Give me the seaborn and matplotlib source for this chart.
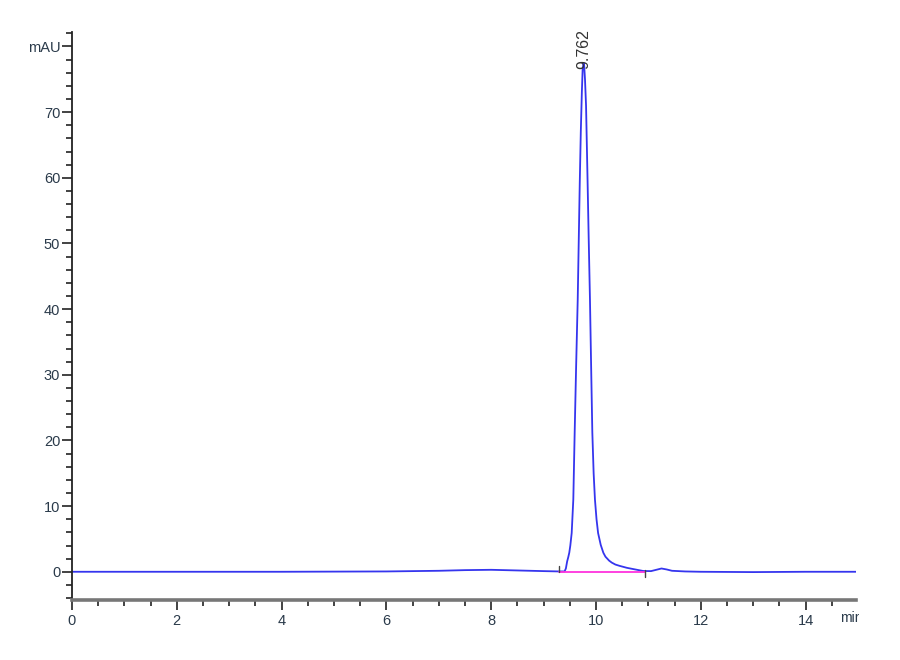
import numpy as np
import pandas as pd
import seaborn as sns
import matplotlib.pyplot as plt
from matplotlib.transforms import Bbox, TransformedBbox

# chromatogram trace (time in min, signal in mAU)
time_min = [0.0, 2.0, 4.0, 6.0, 7.0, 7.5, 8.0, 8.5, 9.0, 9.3, 9.40, 9.425,
            9.45, 9.47, 9.49, 9.51, 9.536, 9.567, 9.593, 9.62, 9.651, 9.69,
            9.71, 9.73, 9.745, 9.762, 9.775, 9.79, 9.81, 9.84, 9.86, 9.885,
            9.91, 9.93, 9.955, 9.98, 10.01, 10.04, 10.09, 10.14, 10.18, 10.25,
            10.30, 10.37, 10.45, 10.59, 10.75, 10.9, 11.05, 11.15, 11.25,
            11.35, 11.45, 11.7, 12.0, 13.0, 14.0, 15.0]
signal_mau = [0.0, 0.0, 0.0, 0.05, 0.15, 0.25, 0.3, 0.2, 0.1, 0.05, 0.05, 0.5,
              1.6, 2.2, 2.9, 4.0, 5.9, 11.0, 21.2, 31.0, 41.4, 59.2, 67.0,
              73.0, 76.5, 77.5, 77.0, 75.0, 71.0, 59.2, 51.0, 41.4, 30.0, 21.2,
              15.0, 11.0, 8.0, 5.9, 4.1, 2.9, 2.3, 1.7, 1.4, 1.1, 0.9, 0.6,
              0.35, 0.12, 0.1, 0.3, 0.5, 0.35, 0.15, 0.05, 0.0, -0.05, 0.0, 0.0]

# integration baseline of the main peak
base_start, base_end = 9.29, 10.93
peak_rt = 9.762
peak_top = 76.6

y_ticks = [0, 10, 20, 30, 40, 50, 60, 70, 80]
y_labels = ['0', '10', '20', '30', '40', '50', '60', '70', 'mAU']
x_ticks = [0, 2, 4, 6, 8, 10, 12, 14]

df = pd.DataFrame({'time': time_min, 'mAU': signal_mau})

sns.set_style('white')
plt.rcParams['font.family'] = ['Liberation Sans', 'DejaVu Sans']

fig = plt.figure(figsize=(9, 6.6), dpi=100)
ax = fig.add_axes([0.08, 0.0909, 0.871, 0.8606])

sns.lineplot(data=df, x='time', y='mAU', ax=ax, color='#3535ee', linewidth=1.3)
ax.plot([base_start, base_end], [0, 0], color='#ff33dd', linewidth=1.3)
ax.plot([base_start, base_start], [0, 0.9], color='#444444', linewidth=1.0)
ax.plot([base_end, base_end], [0.2, -0.8], color='#444444', linewidth=1.0)

ax.text(peak_rt, peak_top, '9.762', rotation=90, ha='center', va='bottom',
        fontsize=11.5, color='#333333', clip_on=False)

ax.set_xlim(0, 14.96)
ax.set_ylim(-4.3, 82.2)
ax.set_xticks(x_ticks)
ax.set_xticks(np.arange(0, 14.96, 0.5), minor=True)
ax.set_yticks(y_ticks)
ax.set_yticklabels(y_labels)
ax.set_yticks(np.arange(-4, 82.1, 2), minor=True)
ax.set_xlabel('')
ax.set_ylabel('')

for side in ['top', 'right']:
    ax.spines[side].set_visible(False)
ax.spines['left'].set_color('#222222')
ax.spines['left'].set_linewidth(1.3)
ax.spines['bottom'].set_color('#777777')
ax.spines['bottom'].set_linewidth(2.6)

ax.tick_params(axis='both', which='both', bottom=True, left=True)
ax.tick_params(axis='both', which='major', direction='out', length=7,
               width=1.2, colors='#222222', labelsize=10.5, labelcolor='#2a3a4a')
ax.tick_params(axis='both', which='minor', direction='out', length=4,
               width=1.2, colors='#222222')
ax.tick_params(axis='x', which='major', pad=3)
ax.tick_params(axis='y', which='major', pad=1.5)

min_label = ax.text(14.66, -6.0, 'min', ha='left', va='top', fontsize=10,
                    color='#2a3a4a', clip_on=True)
min_label.set_clip_box(TransformedBbox(Bbox([[0, 0], [0.954, 1]]), fig.transFigure))

fig.savefig('out.png', dpi=100)
